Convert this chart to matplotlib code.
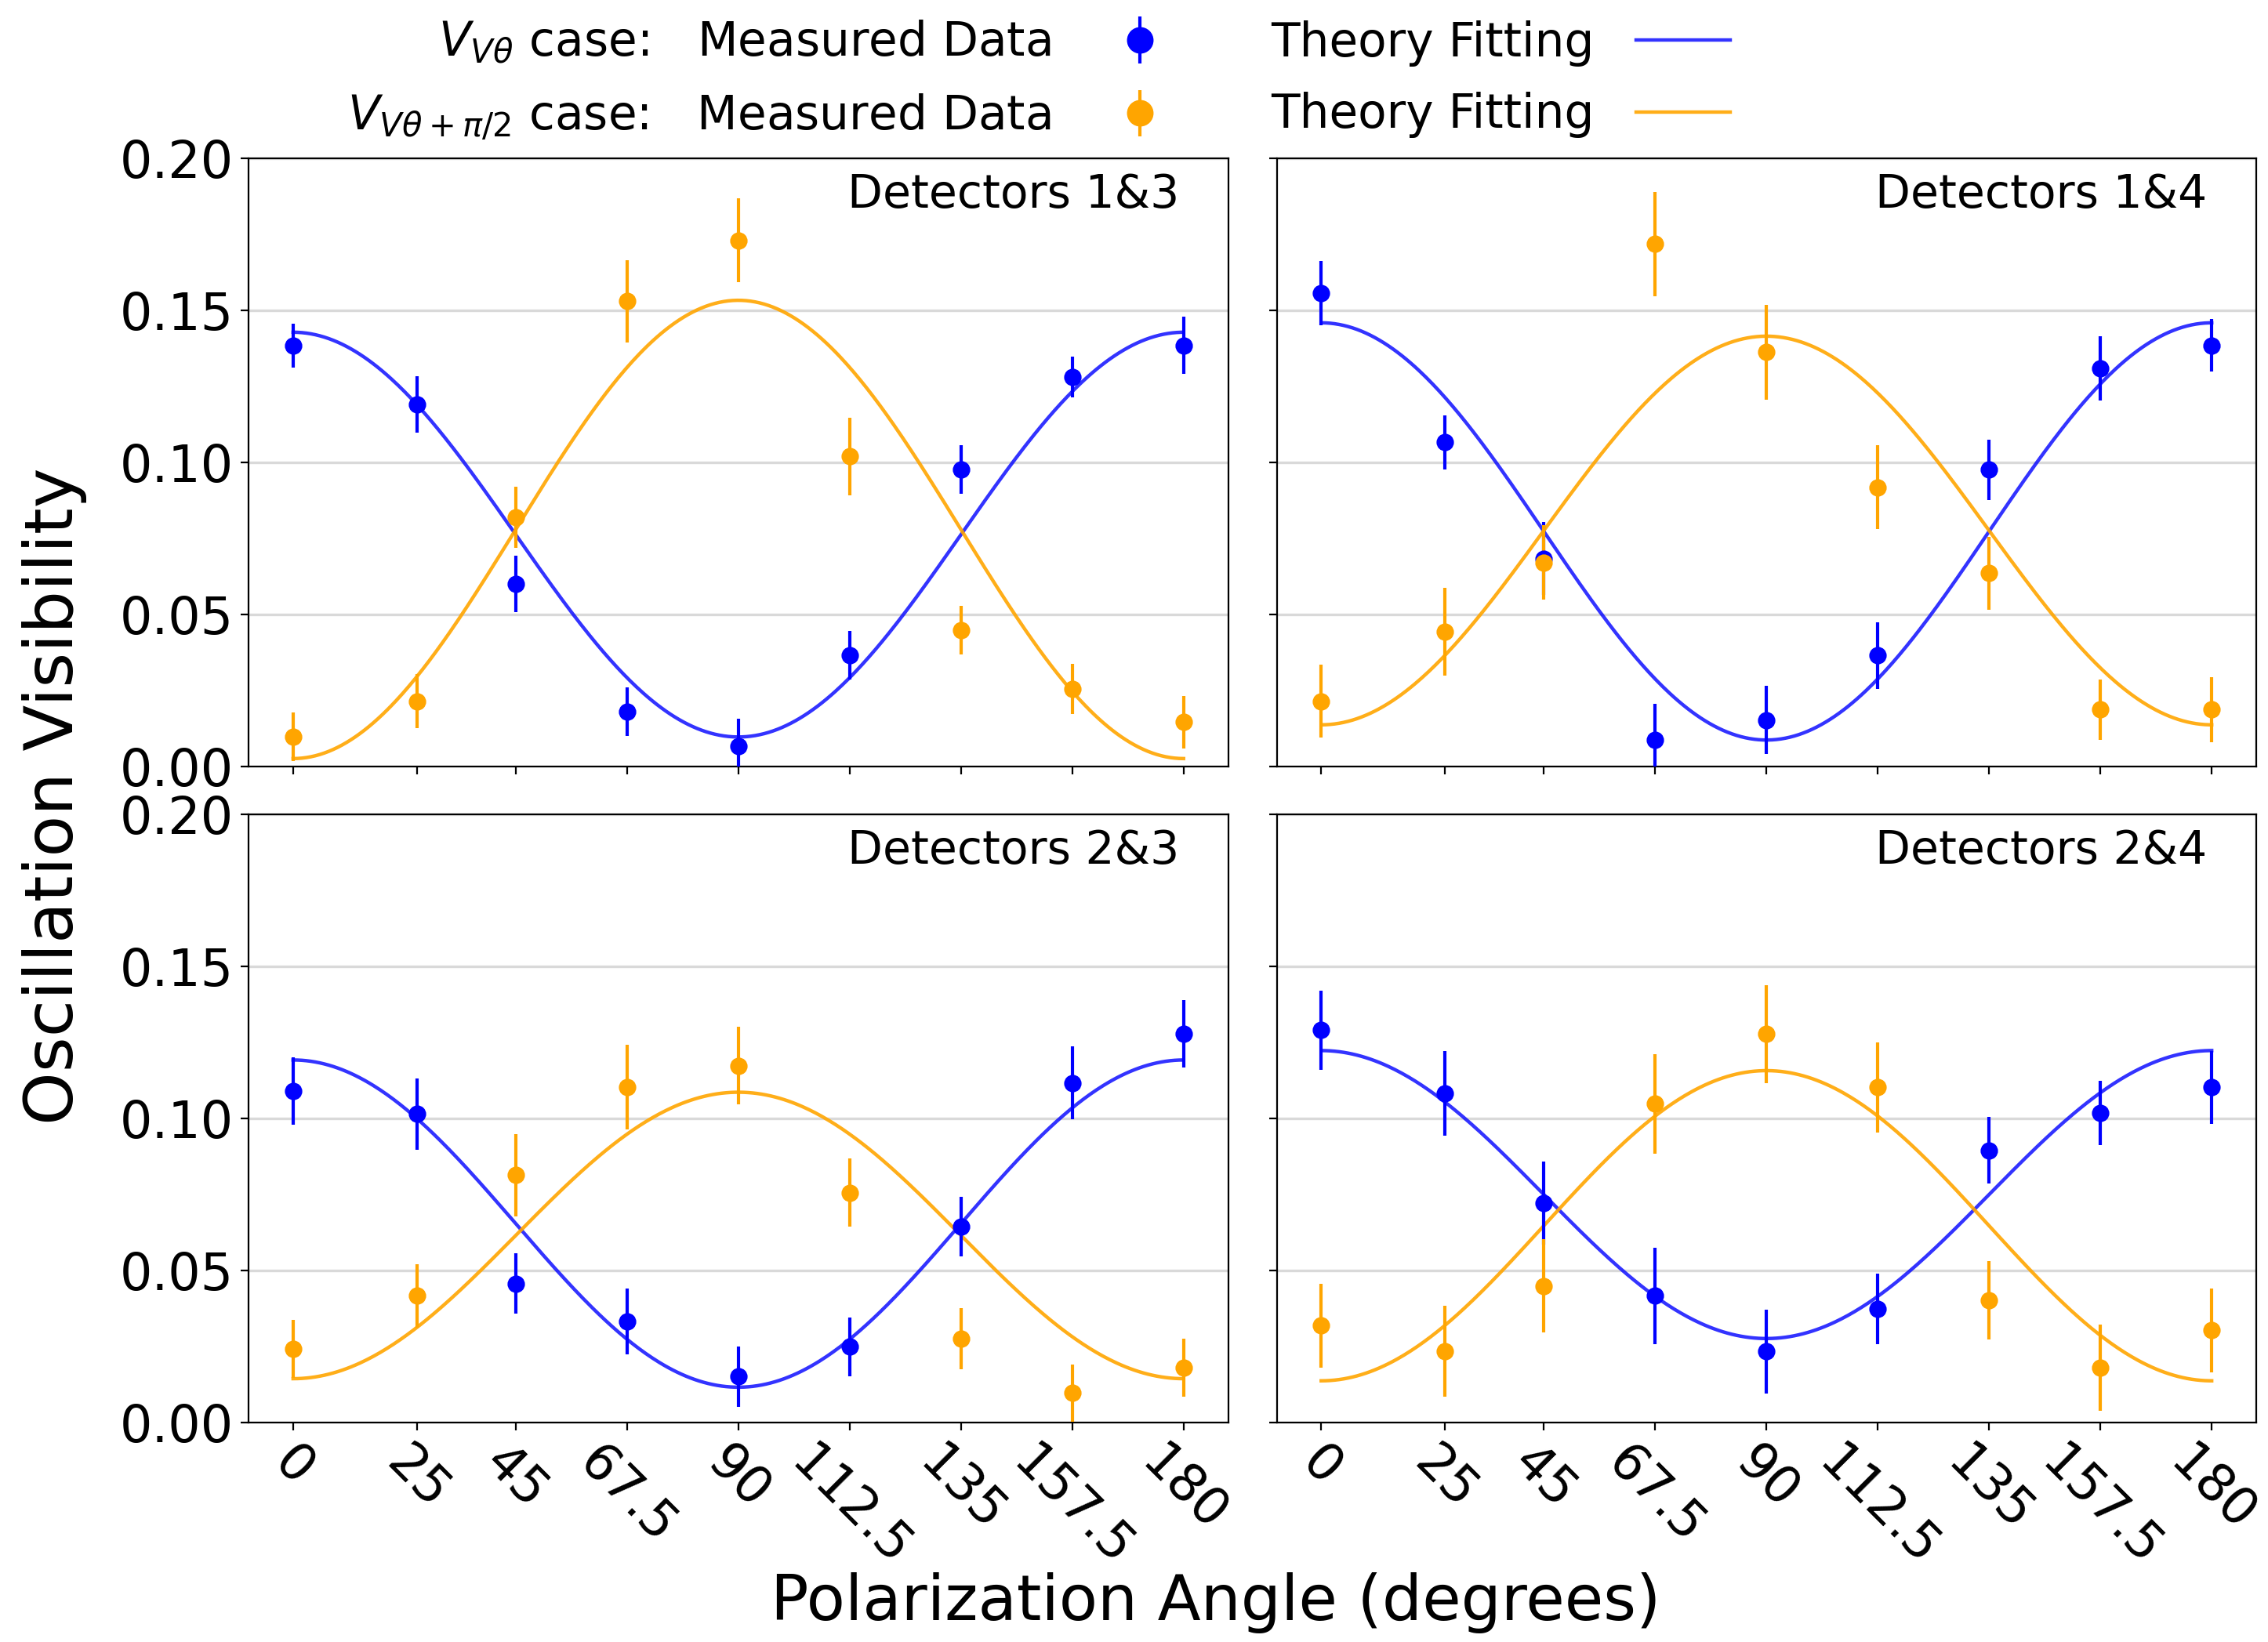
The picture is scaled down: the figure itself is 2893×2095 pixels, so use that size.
import numpy as np
import matplotlib
matplotlib.use('Agg')
import matplotlib.pyplot as plt

#%% Data

angles = [0, 25, 45, 67.5, 90, 112.5, 135, 157.5, 180]
angle_labels = ['0', '25', '45', '67.5', '90', '112.5', '135', '157.5', '180']

panels = ['Detectors 1&3', 'Detectors 1&4', 'Detectors 2&3', 'Detectors 2&4']

# V_{V theta} case (blue)
v_13 = [0.1385, 0.119, 0.060, 0.018, 0.0067, 0.0365, 0.0976, 0.128, 0.1385]
e_13 = [0.0072, 0.0093, 0.0093, 0.008, 0.009, 0.008, 0.008, 0.0067, 0.0093]
v_14 = [0.1557, 0.1066, 0.0683, 0.0087, 0.0153, 0.0365, 0.0976, 0.1309, 0.1385]
e_14 = [0.0105, 0.0089, 0.0120, 0.012, 0.0113, 0.011, 0.0099, 0.0105, 0.0086]
v_23 = [0.109, 0.1014, 0.0457, 0.0332, 0.0151, 0.0249, 0.0644, 0.1117, 0.1278]
e_23 = [0.011, 0.0118, 0.0099, 0.0108, 0.010, 0.0096, 0.0097, 0.012, 0.011]
v_24 = [0.129, 0.1083, 0.0722, 0.0416, 0.0234, 0.0373, 0.0895, 0.1018, 0.1102]
e_24 = [0.013, 0.0139, 0.0137, 0.0158, 0.0138, 0.0116, 0.011, 0.0106, 0.012]

# V_{V theta + pi/2} case (orange)
w_13 = [0.0097, 0.0215, 0.082, 0.153, 0.173, 0.102, 0.0448, 0.0255, 0.0146]
f_13 = [0.008, 0.009, 0.010, 0.0135, 0.0138, 0.0128, 0.008, 0.0083, 0.0086]
w_14 = [0.0215, 0.0443, 0.0671, 0.1718, 0.1362, 0.0918, 0.0636, 0.0187, 0.0187]
f_14 = [0.012, 0.0144, 0.0123, 0.0172, 0.0156, 0.0138, 0.012, 0.010, 0.0106]
w_23 = [0.0242, 0.0416, 0.0813, 0.1103, 0.1173, 0.0756, 0.0276, 0.0097, 0.018]
f_23 = [0.0095, 0.0104, 0.0135, 0.014, 0.0128, 0.0113, 0.010, 0.0094, 0.0096]
w_24 = [0.0319, 0.0234, 0.0449, 0.1048, 0.1277, 0.1102, 0.0402, 0.018, 0.0303]
f_24 = [0.0138, 0.0149, 0.0153, 0.0164, 0.0161, 0.0148, 0.0128, 0.0141, 0.0138]

# theory fitting: value at 0 deg and at 90 deg (cos^2 / sin^2 law)
fit_v_0 = [0.1428, 0.1459, 0.1192, 0.1223]
fit_v_90 = [0.0097, 0.0087, 0.0116, 0.0276]
fit_w_0 = [0.0026, 0.0137, 0.0144, 0.0137]
fit_w_90 = [0.1533, 0.1415, 0.1086, 0.1157]

vals_v = [v_13, v_14, v_23, v_24]
errs_v = [e_13, e_14, e_23, e_24]
vals_w = [w_13, w_14, w_23, w_24]
errs_w = [f_13, f_14, f_23, f_24]

#%% Figure

plt.rcParams['font.family'] = 'DejaVu Sans'

fig, axes = plt.subplots(2, 2, figsize=(14.465, 10.475), dpi=200,
                         sharex=True, sharey=True)
fig.subplots_adjust(left=0.1096, right=0.9948, top=0.9036, bottom=0.1337,
                    wspace=0.0496, hspace=0.0786)

th = np.linspace(0, 180, 400)

for i, ax in enumerate(axes.flat):
    ax.grid(axis='y', color='#d9d9d9', linewidth=1.2, zorder=0)
    eb_v = ax.errorbar(angles, vals_v[i], yerr=errs_v[i], fmt='o', color='blue',
                       markersize=7, elinewidth=1.5, zorder=3)
    cos2 = np.cos(np.radians(th))**2
    ln_v, = ax.plot(th, fit_v_90[i] + (fit_v_0[i] - fit_v_90[i])*cos2,
                    color='blue', alpha=0.8, linewidth=1.6, zorder=2)
    eb_w = ax.errorbar(angles, vals_w[i], yerr=errs_w[i], fmt='o', color='orange',
                       markersize=7, elinewidth=1.5, zorder=3)
    ln_w, = ax.plot(th, fit_w_0[i] + (fit_w_90[i] - fit_w_0[i])*(1 - cos2),
                    color='orange', alpha=0.9, linewidth=1.6, zorder=2)
    ax.text(0.95, 0.977, panels[i], transform=ax.transAxes, ha='right', va='top',
            fontsize=21)
    ax.set_ylim(0, 0.2)
    ax.set_yticks([0, 0.05, 0.10, 0.15, 0.20])
    ax.set_xticks(angles)
    ax.set_xticklabels(angle_labels, rotation=-45)
    ax.tick_params(labelsize=23.5)

fig.text(0.024, 0.515, 'Oscillation Visibility', rotation=90, fontsize=31,
         ha='center', va='center')
fig.text(0.536, 0.024, 'Polarization Angle (degrees)', fontsize=29,
         ha='center', va='center')

fig.legend([eb_v, eb_w, ln_v, ln_w],
           [r'$V_{V\theta}$ case:   Measured Data',
            r'$V_{V\theta+\pi/2}$ case:   Measured Data',
            'Theory Fitting', 'Theory Fitting'],
           ncol=2, markerfirst=False, frameon=False, fontsize=21.5,
           markerscale=1.6, columnspacing=1.8, handletextpad=0.9,
           labelspacing=0.55,
           loc='upper center', bbox_to_anchor=(0.458, 1.014))

fig.savefig('out.png', dpi=200, facecolor='w')
